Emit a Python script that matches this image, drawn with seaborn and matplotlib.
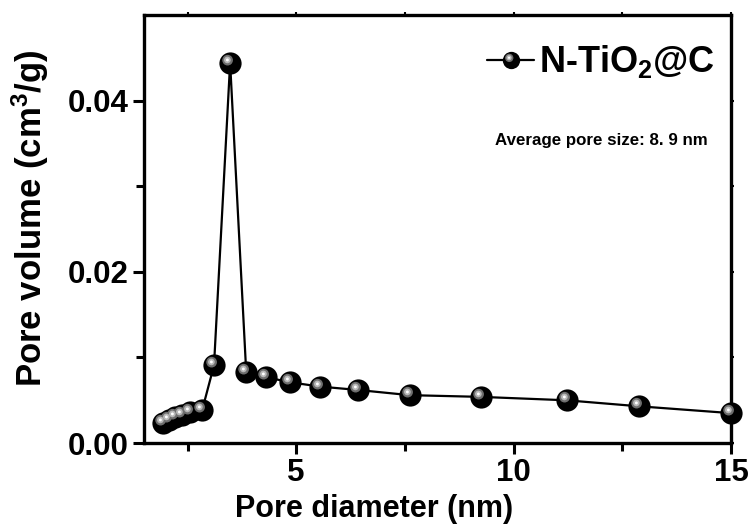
import numpy as np
import matplotlib
matplotlib.use("Agg")
import matplotlib.pyplot as plt
from matplotlib.path import Path
from matplotlib.legend_handler import HandlerTuple
import seaborn as sns

# BJH pore size distribution
pore_diameter = [1.94, 2.08, 2.22, 2.38, 2.56, 2.84, 3.11, 3.48, 3.85, 4.31,
                 4.86, 5.55, 6.43, 7.61, 9.24, 11.22, 12.88, 15.0]
pore_volume = [0.0023, 0.0027, 0.0030, 0.0033, 0.0036, 0.0039, 0.0091, 0.0444,
               0.0083, 0.0077, 0.0071, 0.0066, 0.0062, 0.0056, 0.0054, 0.0050,
               0.0043, 0.0035]
x_ticks = [5, 10, 15]
y_ticks = [0.00, 0.02, 0.04]
series_label = "N-TiO$_2$@C"
note = "Average pore size: 8. 9 nm"

sns.set_theme(style="ticks")
plt.rcParams["font.family"] = ["Liberation Sans", "DejaVu Sans"]
plt.rcParams["font.weight"] = "bold"
plt.rcParams["text.color"] = "black"
plt.rcParams["axes.labelcolor"] = "black"
plt.rcParams["xtick.color"] = "black"
plt.rcParams["ytick.color"] = "black"
plt.rcParams["mathtext.fontset"] = "custom"
plt.rcParams["mathtext.rm"] = "Liberation Sans:bold"
plt.rcParams["mathtext.bf"] = "Liberation Sans:bold"
plt.rcParams["mathtext.default"] = "rm"


def sphere_layer(cx, cy, r):
    """Circle marker that keeps its offset inside a [-1, 1] marker box."""
    circ = Path.circle((cx, cy), r)
    frame = Path([(1, 1), (-1, -1)], [Path.MOVETO, Path.MOVETO])
    return Path.make_compound_path(frame, circ)


ball = sphere_layer(0, 0, 1.0)
shade = sphere_layer(-0.26, 0.3, 0.48)
glow = sphere_layer(-0.28, 0.32, 0.3)
spot = sphere_layer(-0.28, 0.32, 0.13)

fig = plt.figure(figsize=(7.56, 5.25), dpi=100)
ax = fig.add_axes([0.1905, 0.156, 0.7765, 0.8154])

ms = 16
sns.lineplot(x=pore_diameter, y=pore_volume, ax=ax, color="black", lw=1.6,
             marker=ball, markersize=ms, markerfacecolor="black",
             markeredgewidth=0, clip_on=False, zorder=3)
layers = []
for path, col in [(shade, "#6e6e6e"), (glow, "#b8b8b8"), (spot, "#ffffff")]:
    ln, = ax.plot(pore_diameter, pore_volume, ls="none", marker=path,
                  markersize=ms, color=col, markeredgewidth=0,
                  clip_on=False, zorder=4)
    layers.append(ln)

ax.set_xlim(1.5, 15)
ax.set_ylim(0, 0.05)
ax.set_xticks(x_ticks)
ax.set_xticks([2.5, 7.5, 12.5], minor=True)
ax.set_yticks(y_ticks)
ax.set_yticks([0.01, 0.03], minor=True)
ax.set_yticklabels([f"{v:.2f}" for v in y_ticks])

for s in ax.spines.values():
    s.set_linewidth(2.4)
    s.set_color("black")
ax.tick_params(which="both", direction="out", width=2.2, color="black",
               labelsize=22.5, pad=3)
ax.tick_params(which="major", length=8)
ax.tick_params(which="minor", length=6)
for lab in ax.get_xticklabels() + ax.get_yticklabels():
    lab.set_fontweight("bold")

top = ax.secondary_xaxis("top")
top.set_xticks(x_ticks)
top.set_xticks([2.5, 7.5, 12.5], minor=True)
top.tick_params(which="both", direction="out", length=2.5, width=1.5,
                labeltop=False)
right = ax.secondary_yaxis("right")
right.set_yticks(y_ticks)
right.set_yticks([0.01, 0.03], minor=True)
right.tick_params(which="both", direction="out", length=2.5, width=1.5,
                  labelright=False)
for sec in (top, right):
    for s in sec.spines.values():
        s.set_visible(False)

ax.set_xlabel("Pore diameter (nm)", fontsize=22, fontweight="bold")
ax.xaxis.set_label_coords(0.392, -0.119, transform=ax.transAxes)
ax.xaxis.label.set_va("top")
ax.set_ylabel("Pore volume (cm$^3$/g)", fontsize=25, fontweight="bold")
ax.yaxis.set_label_coords(-0.158, 0.525, transform=ax.transAxes)

line_handle = ax.get_lines()[0]
leg = ax.legend([tuple([line_handle] + layers)], [series_label],
                handler_map={tuple: HandlerTuple(ndivide=1, pad=0)},
                loc="upper right", bbox_to_anchor=(0.972, 0.934),
                frameon=False, fontsize=26, markerscale=0.78,
                handlelength=1.3, handletextpad=0.12, borderpad=0,
                borderaxespad=0)
for t in leg.get_texts():
    t.set_fontweight("bold")

ax.text(0.598, 0.708, note, transform=ax.transAxes, fontsize=12.2,
        fontweight="bold", ha="left", va="center")

fig.savefig("out.png", dpi=100)
